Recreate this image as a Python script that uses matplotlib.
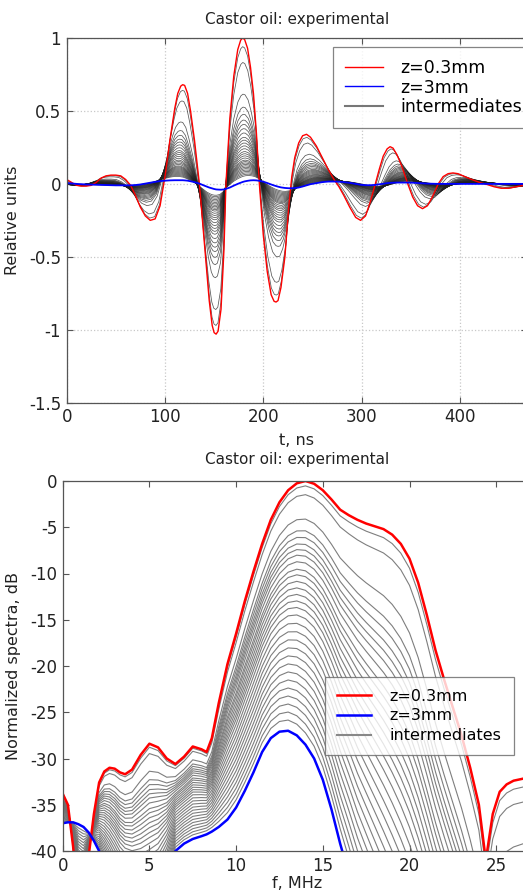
import numpy as np
import matplotlib
matplotlib.use("Agg")
import matplotlib.pyplot as plt
from matplotlib.lines import Line2D

plt.rcParams['font.family'] = ['DejaVu Sans']

# ---------------- time-domain data ----------------
t_ns = [0, 5, 10, 15, 20, 25, 30, 35, 40, 45, 50, 55, 60, 65, 70, 75, 80, 85, 90, 95,
        100, 105, 110, 113, 116, 118, 120, 123, 126, 130, 135, 140, 145, 148, 150, 152,
        154, 157, 160, 162,
        166, 170, 174, 177, 179, 181, 184, 187, 190, 193, 196, 200, 204, 208, 211, 213,
        215, 218, 222, 226,
        229, 232, 236, 240, 244, 248, 254, 260, 266, 272, 277, 282, 288, 294, 299, 304,
        309, 314, 318, 322, 326, 329, 332, 336, 341, 347, 352, 357, 362, 367, 372, 378,
        383, 388, 393, 398, 405, 412, 420, 428, 435, 442, 450, 457, 465, 480]
red_t = [0.03, 0.01, -0.01, -0.015, -0.015, -0.01, 0.01, 0.04, 0.055, 0.06, 0.06, 0.055,
         0.03, -0.01, -0.08, -0.16, -0.22, -0.25, -0.24, -0.15,
         0.05, 0.30, 0.52, 0.62, 0.67, 0.68, 0.675, 0.62, 0.50, 0.30, 0.0, -0.40, -0.80,
         -0.97, -1.02, -1.03, -1.01, -0.86, -0.45, 0.0,
         0.45, 0.74, 0.92, 0.985, 1.0, 0.99, 0.93, 0.80, 0.62, 0.35, 0.0, -0.35, -0.60,
         -0.76, -0.805, -0.81, -0.80, -0.71, -0.50, -0.15,
         0.05, 0.18, 0.28, 0.33, 0.34, 0.32, 0.26, 0.18, 0.10, 0.03, -0.02, -0.08, -0.16,
         -0.23, -0.25, -0.22,
         -0.12, 0.0, 0.10, 0.19, 0.24, 0.255, 0.245, 0.20, 0.12, 0.0, -0.09, -0.15, -0.17,
         -0.15, -0.09, 0.0,
         0.05, 0.07, 0.075, 0.07, 0.05, 0.03, 0.01, -0.005, -0.02, -0.03, -0.03, -0.02,
         -0.01, 0.0]
blue_t = [0.005, 0.003, 0.0, -0.002, -0.004, -0.005, -0.006, -0.007, -0.008, -0.009,
          -0.01, -0.01, -0.01, -0.01, -0.008, -0.004, 0.002, 0.008, 0.014, 0.019,
          0.022, 0.024, 0.025, 0.025, 0.025, 0.025, 0.024, 0.022, 0.018, 0.012, 0.002,
          -0.012, -0.025, -0.031, -0.035, -0.038, -0.039, -0.04, -0.038, -0.034,
          -0.025, -0.012, 0.0, 0.008, 0.013, 0.017, 0.021, 0.024, 0.025, 0.024, 0.021,
          0.015, 0.006, -0.004, -0.011, -0.015, -0.019, -0.024, -0.028, -0.03,
          -0.03, -0.028, -0.025, -0.018, -0.01, -0.002, 0.005, 0.012, 0.016, 0.016, 0.015,
          0.012, 0.007, 0.0, -0.006, -0.009,
          -0.009, -0.007, -0.003, 0.001, 0.005, 0.007, 0.008, 0.009, 0.009, 0.009, 0.008,
          0.006, 0.004, 0.002, 0.001, 0.0,
          0.0, 0.0, 0.0, 0.0, 0.0, 0.0, 0.0, 0.0, 0.0, 0.0, 0.0, 0.0, 0.0, 0.0]
# peak amplitude of each intermediate trace (read at the 180 ns lobe)
inter_amp = [0.94, 0.83, 0.61, 0.52, 0.47, 0.43, 0.40, 0.37, 0.34, 0.31, 0.29, 0.27,
             0.25, 0.23, 0.21, 0.195, 0.18, 0.165, 0.15, 0.14, 0.13, 0.12, 0.11, 0.10,
             0.09, 0.08, 0.07, 0.06, 0.05, 0.04]

# ---------------- spectra ----------------
f_mhz = [0, 0.3, 0.6, 0.9, 1.2, 1.5, 1.8, 2.1, 2.4, 2.7, 3.0, 3.3, 3.6, 4.0, 4.5, 5.0,
         5.5, 6.0, 6.5, 7.0, 7.5, 8.0, 8.3, 8.6, 9.0, 9.5, 10, 10.5, 11, 11.5, 12, 12.5,
         13, 13.5, 14, 14.5, 15, 15.5, 16, 16.5, 17, 17.5, 18, 18.5, 19, 19.5, 20, 20.5,
         21, 21.5, 22, 22.5, 23, 23.5, 24, 24.4, 24.8, 25.2, 25.6, 26, 26.5, 27]
red_db = [-33.8, -35.0, -39.5, -46, -47, -40.5, -36, -32.6, -31.4, -31.0, -31.1, -31.5,
          -31.7, -31.2, -29.6, -28.4, -28.8, -30.0, -30.6, -29.8, -28.7, -29.0, -29.3,
          -27.8, -24.0, -19.8, -16.5, -13.0, -9.8, -6.8, -4.2, -2.3, -1.0, -0.25, 0.0,
          -0.3, -1.0, -2.0, -3.1, -3.7, -4.2, -4.6, -4.9, -5.2, -5.8, -6.8, -8.4, -11.0,
          -14.5, -18.3, -21.5, -24.5, -27.5, -31.0, -35.0, -41, -36.0, -33.6, -32.8,
          -32.4, -32.2, -32.0]
blue_db = [-37.0, -36.9, -36.9, -37.1, -37.4, -38.0, -38.9, -40.0, -41.5, -43, -44.5,
           -46, -47, -48, -49, -49, -47.5, -44, -40.0, -39.2, -38.7, -38.4, -38.2, -37.9,
           -37.4, -36.6, -35.3, -33.5, -31.5, -29.3, -27.8, -27.1, -27.0, -27.5, -28.5,
           -30.0, -32.3, -35.5, -39.2, -42.5, -46, -49, -52, -55, -58, -61, -64, -67, -70,
           -73, -76, -79, -82, -85, -88, -90, -88, -85, -83, -82, -81, -80]
# peak level of each intermediate spectrum, dB
inter_db = [-0.5, -1.4, -3.9, -5.1, -5.8, -6.5, -7.1, -7.7, -8.4, -9.2, -9.8, -10.5,
            -11.2, -11.9, -12.6, -13.3, -14.1, -15.0, -15.9, -16.8, -17.7, -18.6, -19.5,
            -20.4, -21.3, -22.2, -23.1, -24.0, -24.9, -25.8]

W, H = 523, 893
fig = plt.figure(figsize=(W / 100, H / 100), dpi=100)


def px_axes(left, top, right, bottom):
    return fig.add_axes([left / W, 1 - bottom / H, (right - left) / W, (bottom - top) / H])


spine_col = '#555555'
FS = 11.5

# ---------------- top panel ----------------
ax1 = px_axes(66.7, 38, 526.7, 402.7)
t = np.array(t_ns, float)
r = np.array(red_t)
b = np.array(blue_t)
tc = 170.0
for a in inter_amp:
    s = 1 + 0.10 * (1 - a)
    ax1.plot(tc + (t - tc) * s, a * r + (1 - a) * b, color='#202020', lw=0.55, alpha=0.75)
ax1.plot(t, r, color='#ff0000', lw=1.0)
ax1.plot(t, b, color='#0000ff', lw=1.3)
ax1.set_xlim(0, 468)
ax1.set_ylim(-1.5, 1)
ax1.set_xticks([0, 100, 200, 300, 400])
ax1.set_xticklabels(['0', '100', '200', '300', '400'])
ax1.set_yticks([-1.5, -1, -0.5, 0, 0.5, 1])
ax1.set_yticklabels(['-1.5', '-1', '-0.5', '0', '0.5', '1'])
ax1.grid(True, color='#c8c8c8', linestyle=':', lw=0.9)
ax1.text(0.5, 1.052, 'Castor oil: experimental', transform=ax1.transAxes,
         ha='center', va='center', fontsize=FS - 0.5, color='#222222')
ax1.set_xlabel('t, ns', fontsize=FS, color='#222222')
ax1.xaxis.set_label_coords(0.5, -0.083)
ax1.set_ylabel('Relative units', fontsize=FS, color='#222222')
ax1.yaxis.set_label_coords(-0.101, 0.5)

h1 = [Line2D([], [], color='#ff0000', lw=1.0),
      Line2D([], [], color='#0000ff', lw=1.0),
      Line2D([], [], color='#777777', lw=1.5)]
leg1 = ax1.legend(h1, ['z=0.3mm', 'z=3mm', 'intermediates'], loc='upper left',
                  bbox_to_anchor=(333 / W, 1 - 47 / H), bbox_transform=fig.transFigure,
                  fontsize=12.5, frameon=True, fancybox=False, handlelength=2.2,
                  handletextpad=1.0, labelspacing=0.08, borderpad=0.7, borderaxespad=0)
leg1.get_frame().set_edgecolor('#666666')
leg1.get_frame().set_linewidth(0.9)

# ---------------- bottom panel ----------------
ax2 = px_axes(62.7, 481, 530.9, 851)
f = np.array(f_mhz, float)
rd = np.array(red_db)
bd = np.array(blue_db)
for L in inter_db:
    w = L / -27.0
    ax2.plot(f, rd + w * (bd - rd), color='#707070', lw=0.8, alpha=0.9)
ax2.plot(f, rd, color='#ff0000', lw=1.8)
ax2.plot(f, bd, color='#0000ff', lw=1.8)
ax2.set_xlim(0, 27)
ax2.set_ylim(-40, 0)
ax2.set_xticks([0, 5, 10, 15, 20, 25])
ax2.set_xticklabels(['0', '5', '10', '15', '20', '25'])
ax2.set_yticks([-40, -35, -30, -25, -20, -15, -10, -5, 0])
ax2.set_yticklabels(['-40', '-35', '-30', '-25', '-20', '-15', '-10', '-5', '0'])
ax2.text(0.5, 1.057, 'Castor oil: experimental', transform=ax2.transAxes,
         ha='center', va='center', fontsize=FS - 0.5, color='#222222')
ax2.set_xlabel('f, MHz', fontsize=FS, color='#222222')
ax2.xaxis.set_label_coords(0.5, -0.068)
ax2.set_ylabel('Normalized spectra, dB', fontsize=FS, color='#222222')
ax2.yaxis.set_label_coords(-0.09, 0.5)

h2 = [Line2D([], [], color='#ff0000', lw=1.8),
      Line2D([], [], color='#0000ff', lw=1.8),
      Line2D([], [], color='#888888', lw=1.5)]
leg2 = ax2.legend(h2, ['z=0.3mm', 'z=3mm', 'intermediates'], loc='upper left',
                  bbox_to_anchor=(325 / W, 1 - 676.7 / H), bbox_transform=fig.transFigure,
                  fontsize=FS, frameon=True, fancybox=False, handlelength=2.1,
                  handletextpad=1.2, labelspacing=0.3, borderpad=0.75, borderaxespad=0)
leg2.get_frame().set_edgecolor('#666666')
leg2.get_frame().set_linewidth(0.9)

for ax in (ax1, ax2):
    ax.tick_params(direction='in', length=4, width=0.8, colors=spine_col,
                   labelcolor='#222222', labelsize=FS + 0.5, top=True, right=True, pad=4)
    for sp in ax.spines.values():
        sp.set_color(spine_col)
        sp.set_linewidth(0.9)

fig.savefig('out.png', dpi=100)
